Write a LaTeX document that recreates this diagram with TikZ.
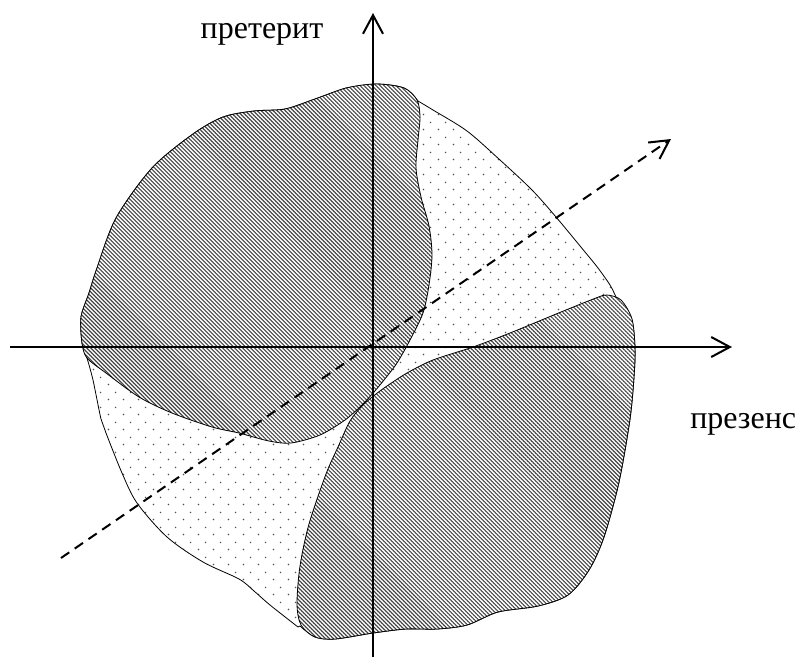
\documentclass[tikz,border=0pt]{standalone}
\usepackage{fontspec}
\setmainfont{Liberation Serif}
\usetikzlibrary{arrows.meta,patterns,patterns.meta}
\definecolor{hatchgray}{HTML}{454545}
\definecolor{dotgray}{HTML}{505050}
\pgfdeclarepatternformonly{sparsedots}{\pgfpointorigin}{\pgfpoint{11.25pt}{11.25pt}}{\pgfpoint{11.25pt}{11.25pt}}{
  \pgfpathcircle{\pgfpoint{2.8pt}{2.8pt}}{0.65pt}
  \pgfpathcircle{\pgfpoint{8.43pt}{8.43pt}}{0.65pt}
  \pgfusepath{fill}
}
\tikzset{
  >={Straight Barb[length=14pt,width=15pt,line width=1.5pt]},
  axis/.style={->, line width=1.5pt},
  diagaxis/.style={->, line width=1.5pt, dash pattern=on 7.5pt off 5pt},
  outline/.style={draw=black, line width=0.6pt},
  dotfill/.style={outline, pattern=sparsedots, pattern color=dotgray},
  hatchfill/.style={outline, preaction={fill=white},
    pattern={Lines[angle=-45, distance=2.12pt, line width=0.85pt]}, pattern color=hatchgray},
  axislabel/.style={font=\fontsize{24}{28}\selectfont, inner sep=0pt}
}

\begin{document}
\begin{tikzpicture}[x=0.75pt, y=-0.75pt]
\useasboundingbox (0,0) rectangle (798,657);
\coordinate (O) at (373,347);
\coordinate (xL) at (10,347);
\coordinate (xR) at (732,347);
\coordinate (yB) at (373,657);
\coordinate (yT) at (373,13);
\coordinate (dS) at (61,558);
\coordinate (dE) at (671,139);
% whole area, dotted
\path[dotfill] plot[smooth, tension=0.55] coordinates {(346,88) (376,84) (404,88) (418,101)}
  -- plot[smooth] coordinates {(418,101) (433,110) (467,131) (500,160) (532,190) (556,217) (585,252) (598,268) (610,285) (616,297)}
  -- plot[smooth] coordinates {(616,297) (631,317) (635,348) (634,377) (630,419) (619,482) (604,537) (589,570) (568,595) (538,606) (498,612) (467,625) (437,629) (406,629) (373,633) (335,639) (315,637) (300,626)}
  -- plot[smooth] coordinates {(298,627) (270,605) (254,591) (239,579) (203,562) (167,537) (137,503) (122,473) (106,433) (101,419) (93,380) (87,358)}
  -- plot[smooth] coordinates {(87,358) (82,343) (81,317) (89,293) (97,268) (116,218) (152,168) (193,134) (223,117) (254,111) (285,109) (315,99) (346,88)}
  -- cycle;
% upper left region
\path[hatchfill] plot[smooth cycle, tension=0.5] coordinates {(376,84) (404,88) (417,100) (420,117) (418,140) (416,168) (421,197) (429,226) (432,255) (429,285) (423,313) (410,340) (397,363) (384,380) (374,392) (362,405) (345,420) (320,435) (291,443) (269,441) (239,433) (212,427) (172,413) (139,397) (106,373) (87,358) (82,343) (81,317) (89,293) (97,268) (116,218) (152,168) (193,134) (223,117) (254,111) (285,109) (315,99) (346,88)};
% lower right region
\path[hatchfill] plot[smooth cycle, tension=0.5] coordinates {(376,394) (387,386) (407,373) (433,360) (473,347) (510,333) (561,312) (596,298) (607,295) (621,300) (632,319) (635,348) (634,377) (630,419) (619,482) (604,537) (589,570) (568,595) (538,606) (498,612) (467,625) (437,629) (406,629) (373,633) (335,639) (315,637) (301,625) (297,604) (300,566) (309,524) (326,474) (338,447) (350,421) (363,405)};
\draw[diagaxis] (dS) -- (dE);
\draw[axis] (xL) -- (xR);
\draw[axis] (yB) -- (yT);
\node[axislabel, anchor=base] (pret) at (262,38) {претерит};
\node[axislabel, anchor=base west] (praes) at (690,428) {презенс};
\end{tikzpicture}
\end{document}
